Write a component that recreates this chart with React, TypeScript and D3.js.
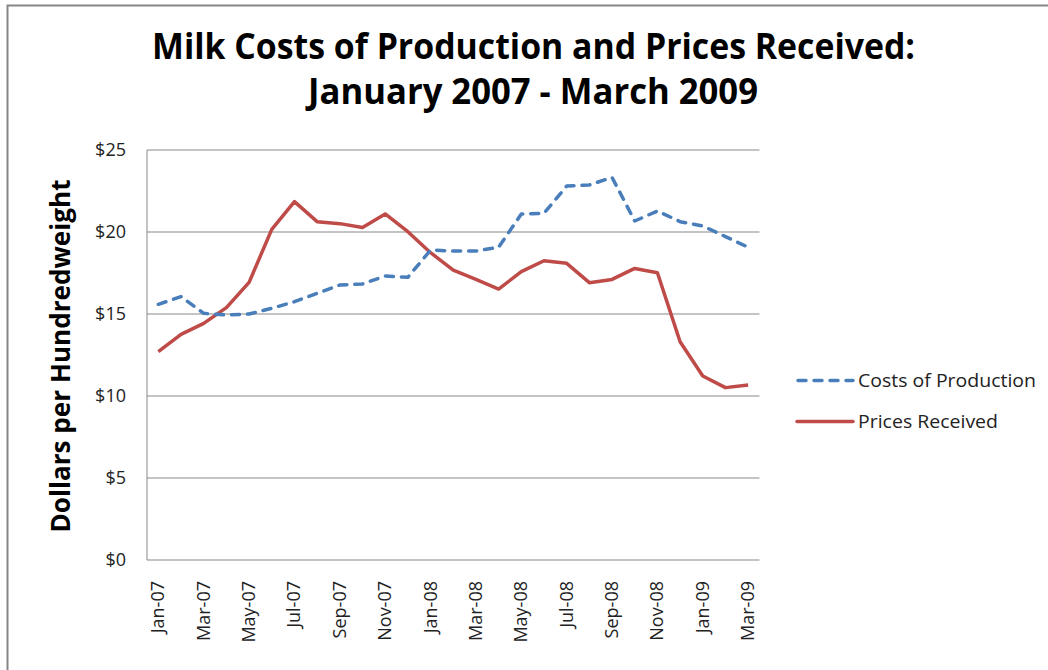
import React from "react";
import * as d3 from "d3";

const months = [
  "Jan-07","Feb-07","Mar-07","Apr-07","May-07","Jun-07","Jul-07","Aug-07","Sep-07","Oct-07","Nov-07","Dec-07",
  "Jan-08","Feb-08","Mar-08","Apr-08","May-08","Jun-08","Jul-08","Aug-08","Sep-08","Oct-08","Nov-08","Dec-08",
  "Jan-09","Feb-09","Mar-09",
];
const costsOfProduction = [
  15.59, 16.06, 15.04, 14.94, 15.0, 15.35, 15.75, 16.26, 16.77, 16.83, 17.32, 17.24,
  18.9, 18.84, 18.84, 19.07, 21.1, 21.14, 22.8, 22.87, 23.33, 20.67, 21.28, 20.63,
  20.37, 19.72, 19.07,
];
const pricesReceived = [
  12.7, 13.76, 14.43, 15.39, 16.93, 20.16, 21.85, 20.63, 20.51, 20.28, 21.1, 20.02,
  18.74, 17.68, 17.11, 16.52, 17.58, 18.25, 18.09, 16.91, 17.11, 17.78, 17.52, 13.31,
  11.22, 10.51, 10.67,
];
const yTicks = [0, 5, 10, 15, 20, 25];
const xTickLabels = months.filter((_, i) => i % 2 === 0);

const titleLines = ["Milk Costs of Production and Prices Received:", "January 2007 - March 2009"];
const yTitle = "Dollars per Hundredweight";
const seriesNames = ["Costs of Production", "Prices Received"];

export default function App() {
  const left = 147, right = 759.5, top = 150, bottom = 560;
  const x = d3.scaleBand<string>().domain(months).range([left, right]);
  const y = d3.scaleLinear().domain([0, 25]).range([bottom, top]);
  const cx = (m: string) => (x(m) as number) + x.bandwidth() / 2;
  const line = d3
    .line<number>()
    .x((_, i) => cx(months[i]))
    .y((d) => y(d));

  const font = "'Open Sans', 'Noto Sans', sans-serif";
  const blue = "#4a7ebb";
  const red = "#be4b48";
  const grid = "#898989";

  return (
    <svg
      width={1048}
      height={670}
      style={{ position: "absolute", left: 0, top: 0, background: "#fff" }}
    >
      <rect x={0} y={0} width={1048} height={670} fill="#fff" />
      <rect x={7.5} y={5.5} width={1100} height={700} fill="none" stroke="#868686" strokeWidth={2} />
      {/* title */}
      <text
        x={533.5}
        y={58.5}
        textAnchor="middle"
        fontFamily={font}
        fontWeight="bold"
        fontSize={36}
        textLength={763}
        lengthAdjust="spacingAndGlyphs"
        fill="#000"
      >
        {titleLines[0]}
      </text>
      <text
        x={533}
        y={104}
        textAnchor="middle"
        fontFamily={font}
        fontWeight="bold"
        fontSize={36}
        textLength={450}
        lengthAdjust="spacingAndGlyphs"
        fill="#000"
      >
        {titleLines[1]}
      </text>
      {/* gridlines */}
      {yTicks.map((t) => (
        <line key={t} x1={left} x2={right} y1={y(t)} y2={y(t)} stroke={grid} strokeWidth={1} />
      ))}
      <line x1={left} x2={left} y1={top} y2={bottom} stroke={grid} strokeWidth={1} />
      {/* y tick labels */}
      {yTicks.map((t) => (
        <text
          key={"l" + t}
          x={126}
          y={y(t) + 6}
          textAnchor="end"
          fontFamily={font}
          fontSize={18}
          fill="#222"
        >
          {"$" + t}
        </text>
      ))}
      {/* x tick labels */}
      {xTickLabels.map((m) => (
        <text
          key={m}
          transform={`translate(${cx(m) + 6},${581}) rotate(-90)`}
          textAnchor="end"
          fontFamily={font}
          fontSize={18}
          fill="#222"
        >
          {m}
        </text>
      ))}
      {/* y title */}
      <text
        transform={`translate(${70},${356}) rotate(-90)`}
        textAnchor="middle"
        fontFamily={font}
        fontWeight="bold"
        fontSize={26}
        textLength={353}
        lengthAdjust="spacingAndGlyphs"
        fill="#000"
      >
        {yTitle}
      </text>
      {/* series */}
      <path d={line(pricesReceived) || ""} fill="none" stroke={red} strokeWidth={3.5} strokeLinejoin="round" />
      <path
        d={line(costsOfProduction) || ""}
        fill="none"
        stroke={blue}
        strokeWidth={3.5}
        strokeDasharray="8 8"
        strokeLinecap="round"
        strokeLinejoin="round"
      />
      {/* legend */}
      <line x1={798} x2={853} y1={380.5} y2={380.5} stroke={blue} strokeWidth={3.5} strokeDasharray="8 8" strokeLinecap="round" />
      <text x={858} y={387} fontFamily={font} fontSize={18} fill="#222" textLength={178} lengthAdjust="spacingAndGlyphs">
        {seriesNames[0]}
      </text>
      <line x1={797} x2={853} y1={421.5} y2={421.5} stroke={red} strokeWidth={3.5} strokeLinecap="round" />
      <text x={858} y={428} fontFamily={font} fontSize={18} fill="#222" textLength={140} lengthAdjust="spacingAndGlyphs">
        {seriesNames[1]}
      </text>
    </svg>
  );
}
